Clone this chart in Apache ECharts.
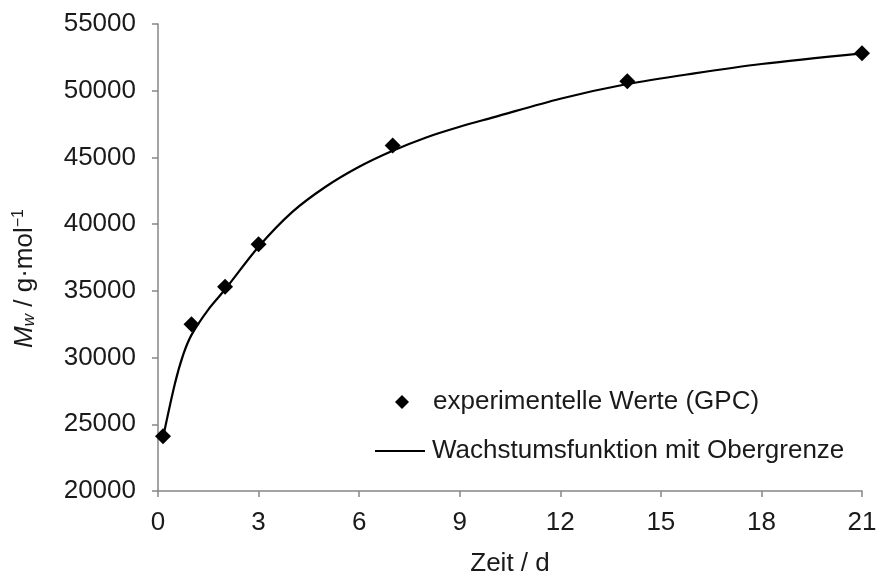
<!DOCTYPE html>
<html>
<head>
<meta charset="utf-8">
<script src="https://cdn.jsdelivr.net/npm/echarts@6/dist/echarts.min.js"></script>
<style>
html, body { margin: 0; padding: 0; background: #fff; }
#main { width: 876px; height: 573px; }
</style>
</head>
<body>
<div id="main"></div>
<script>
// Messwerte (GPC)
var tage = [0.15, 1, 2, 3, 7, 14, 21];
var mwWerte = [24100, 32500, 35300, 38500, 45900, 50700, 52800];

// Wachstumsfunktion
var fitTage = [0.15, 0.5, 0.75, 1, 1.5, 2, 3, 4, 5, 6, 7, 8, 9, 10, 12, 14, 16, 18, 21];
var fitWerte = [24000, 28000, 30200, 31700, 33600, 35100, 38300, 40900, 42800, 44300, 45500, 46500, 47300, 48000, 49400, 50500, 51300, 52000, 52800];

var xTicks = [0, 3, 6, 9, 12, 15, 18, 21];
var yTicks = [20000, 25000, 30000, 35000, 40000, 45000, 50000, 55000];

var FONT = 'Liberation Sans, Arial, sans-serif';
var FS = 26;
var TXT = '#1a1a1a';
var AXIS_COLOR = '#868686';

var chart = echarts.init(document.getElementById('main'));

var option = {
	backgroundColor: '#fff',
	animation: false,
	textStyle: { fontFamily: FONT },
	grid: { left: 158, right: 14, top: 24, bottom: 82, outerBoundsMode: 'none', containLabel: false },
	legend: [{
		orient: 'vertical',
		left: 395,
		top: 389,
		padding: 0,
		itemWidth: 14,
		itemHeight: 14,
		data: [{ name: 'experimentelle Werte (GPC)', icon: 'diamond' }],
		textStyle: { fontSize: FS, color: TXT, fontFamily: FONT, padding: [0, 0, 0, 19] }
	}, {
		orient: 'vertical',
		left: 375,
		top: 438,
		padding: 0,
		itemWidth: 50,
		itemHeight: 2,
		data: [{ name: 'Wachstumsfunktion mit Obergrenze', icon: 'rect' }],
		textStyle: { fontSize: FS, color: TXT, fontFamily: FONT, padding: [0, 0, 0, 2] }
	}],
	xAxis: {
		type: 'value',
		min: xTicks[0],
		max: xTicks[xTicks.length - 1],
		interval: 3,
		name: 'Zeit / d',
		nameLocation: 'middle',
		nameGap: 60,
		nameTextStyle: { fontSize: FS, color: TXT, fontFamily: FONT },
		axisLine: { lineStyle: { color: AXIS_COLOR, width: 1.5 } },
		axisTick: { show: true, length: 6, lineStyle: { color: AXIS_COLOR, width: 1.5 } },
		axisLabel: { fontSize: FS, color: TXT, margin: 19, fontFamily: FONT },
		splitLine: { show: false }
	},
	yAxis: {
		type: 'value',
		min: yTicks[0],
		max: yTicks[yTicks.length - 1],
		interval: 5000,
		name: '{i|M}{sub|w}{n| / g·mol}{sup|−1}',
		nameLocation: 'middle',
		nameGap: 120,
		nameRotate: 90,
		nameTextStyle: {
			fontSize: FS,
			color: TXT,
			fontFamily: FONT,
			padding: [0, 42, 0, 0],
			rich: {
				i: { fontSize: FS, fontStyle: 'italic', color: TXT, fontFamily: FONT },
				sub: { fontSize: 17, fontStyle: 'italic', color: TXT, fontFamily: FONT, verticalAlign: 'bottom', padding: [10, 0, 0, 0] },
				n: { fontSize: FS, color: TXT, fontFamily: FONT },
				sup: { fontSize: 16, color: TXT, fontFamily: FONT, verticalAlign: 'top', padding: [0, 0, 10, 0] }
			}
		},
		axisLine: { show: true, lineStyle: { color: AXIS_COLOR, width: 1.5 } },
		axisTick: { show: true, length: 6, lineStyle: { color: AXIS_COLOR, width: 1.5 } },
		axisLabel: {
			fontSize: FS, color: TXT, margin: 22, fontFamily: FONT,
			formatter: function (v) { return String(v); }
		},
		splitLine: { show: false }
	},
	series: [{
		name: 'Wachstumsfunktion mit Obergrenze',
		type: 'line',
		data: fitTage.map(function (t, i) { return [t, fitWerte[i]]; }),
		smooth: 0.3,
		showSymbol: false,
		lineStyle: { color: '#000', width: 2.2 },
		itemStyle: { color: '#000' },
		z: 2
	}, {
		name: 'experimentelle Werte (GPC)',
		type: 'scatter',
		data: tage.map(function (t, i) { return [t, mwWerte[i]]; }),
		symbol: 'diamond',
		symbolSize: 16,
		itemStyle: { color: '#000', opacity: 1 },
		z: 3
	}]
};

chart.setOption(option);
</script>
</body>
</html>
